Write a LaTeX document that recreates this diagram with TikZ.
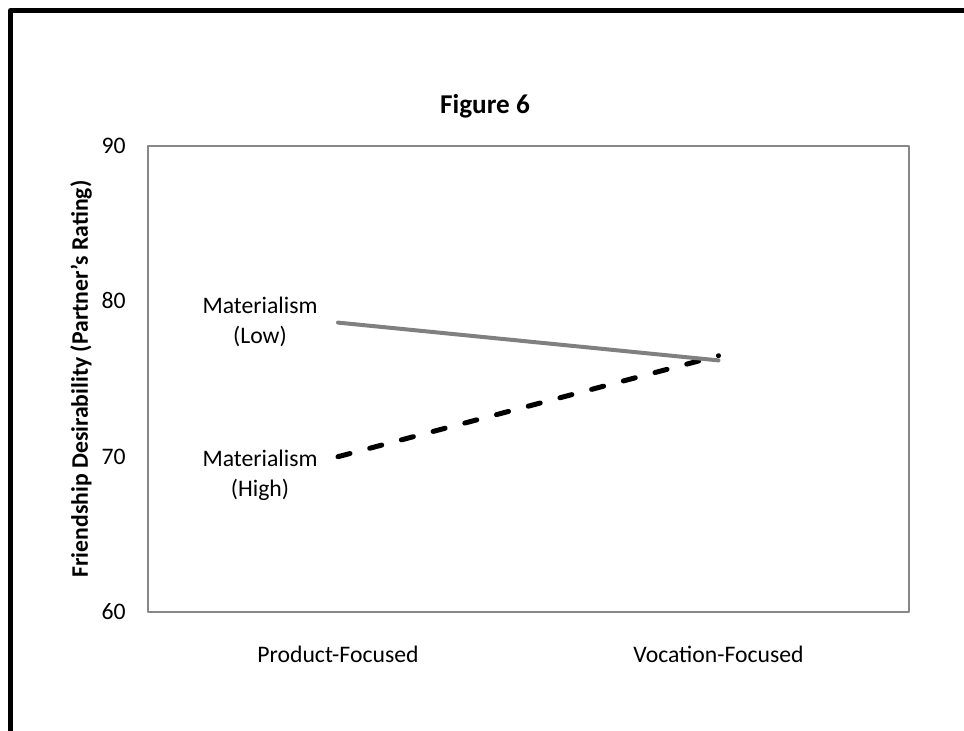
\documentclass[tikz,border=0pt]{standalone}
\usepackage{fontspec}
\setmainfont{Carlito}
\usepackage{tikz}
\usetikzlibrary{positioning}
\definecolor{fgInk}{HTML}{000000}
\definecolor{fgFrame}{HTML}{888888}
\definecolor{fgLow}{HTML}{808080}
\tikzset{
  fg chart/.style={font=\fontsize{11.85}{15}\selectfont, text=fgInk,
    line join=round},
  fg border/.style={draw=black, line width=2.5pt},
  fg plot/.style={draw=fgFrame, line width=1pt},
  fg tick/.style={anchor=base east, inner sep=0pt},
  fg cat/.style={anchor=base, inner sep=0pt},
  fg label/.style={align=center, inner sep=0pt},
  fg title/.style={anchor=base, inner sep=0pt,
    font=\fontsize{13.6}{16}\selectfont\bfseries},
  fg ytitle/.style={rotate=90, inner sep=0pt, font=\fontsize{11.85}{15}\selectfont\bfseries},
  fg low/.style={draw=fgLow, line width=2pt, line cap=round},
  fg high/.style={draw=black, line width=2.5pt, line cap=round,
    dash pattern=on 6.2pt off 10.2pt}
}
\begin{document}
\begin{tikzpicture}[fg chart, x=0.5pt, y=-0.5pt]
\useasboundingbox (0,0) rectangle (964,731);
% outer frame (left and top only)
\draw[fg border] (10.5,731) -- (10.5,10.5) -- (964,10.5);
% plot area
\coordinate (plotNW) at (148,146);
\coordinate (plotSE) at (909,612);
\draw[fg plot] (plotNW) rectangle (plotSE);
\node[fg title] (title) at (485,114) {Figure 6};
\node[fg ytitle] (ytitle) at (81,379) {Friendship Desirability (Partner’s Rating)};
\node[fg tick] (tick90) at (126,153.5) {90};
\node[fg tick] (tick80) at (126,308.8) {80};
\node[fg tick] (tick70) at (126,464.2) {70};
\node[fg tick] (tick60) at (126,619.5) {60};
\node[fg cat] (catProduct) at (338,662) {Product-Focused};
\node[fg cat] (catVocation) at (718.5,662) {Vocation-Focused};
% data points
\coordinate (lowProduct) at (338,322.6);
\coordinate (lowVocation) at (718.5,360.4);
\coordinate (highProduct) at (338,456.7);
\coordinate (highVocation) at (718.5,355.7);
\draw[fg high] (highProduct) -- (highVocation);
\draw[fg low] (lowProduct) -- (lowVocation);
\node[fg label] (lowLabel) at (260,322) {Materialism\\(Low)};
\node[fg label] (highLabel) at (260,475) {Materialism\\(High)};
\end{tikzpicture}
\end{document}
